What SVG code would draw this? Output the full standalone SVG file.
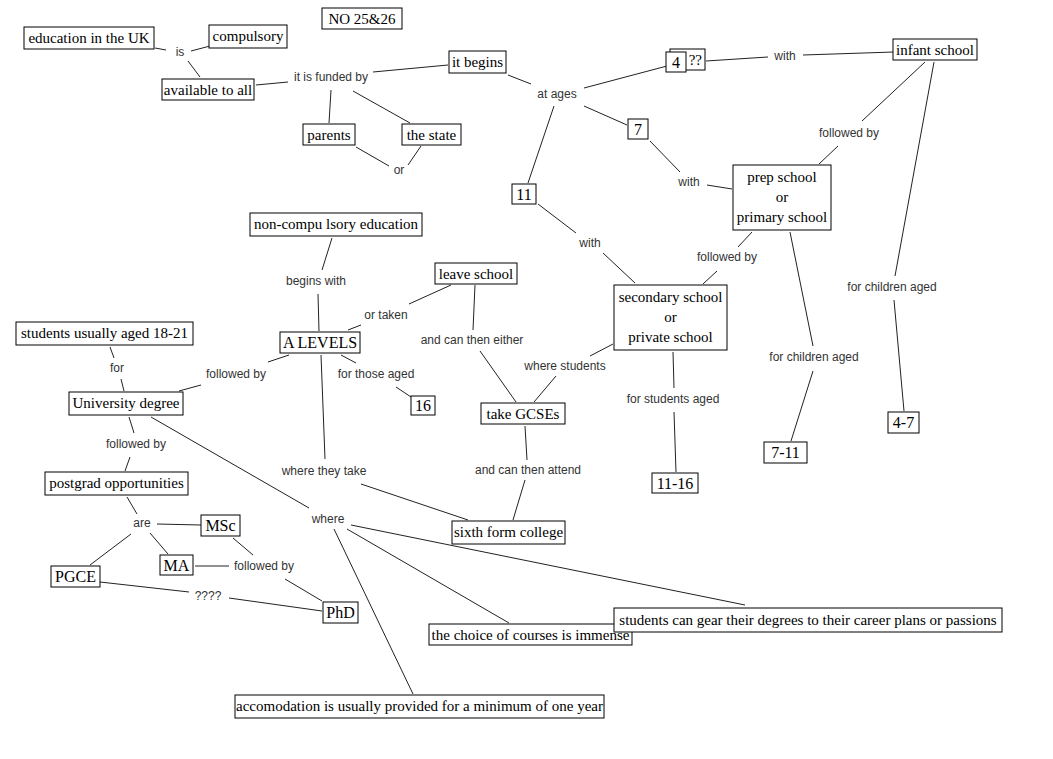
<svg xmlns="http://www.w3.org/2000/svg" width="1053" height="759" viewBox="0 0 1053 759">
<style>
.n rect{fill:#fff;stroke:#000;stroke-width:1}
.n text{font-family:"Liberation Serif","Times New Roman",serif;font-size:15px;fill:#000;text-anchor:middle}
.n text.b{font-size:16px}
.l{font-family:"Liberation Sans",Arial,sans-serif;font-size:12px;fill:#333;text-anchor:middle}
#connectors line{stroke:#222;stroke-width:1}
</style>
<rect width="1053" height="759" fill="#fff"/>
<g id="connectors">
<line x1="155" y1="48" x2="166" y2="50"/>
<line x1="191" y1="51" x2="210" y2="46"/>
<line x1="188" y1="61" x2="200" y2="77"/>
<line x1="256" y1="85" x2="288" y2="82"/>
<line x1="373" y1="72" x2="448" y2="65"/>
<line x1="331" y1="90" x2="329" y2="123"/>
<line x1="353" y1="91" x2="410" y2="123"/>
<line x1="356" y1="147" x2="389" y2="166"/>
<line x1="408" y1="165" x2="421" y2="146"/>
<line x1="508" y1="75" x2="531" y2="84"/>
<line x1="584" y1="88" x2="667" y2="66"/>
<line x1="706" y1="61" x2="768" y2="57"/>
<line x1="803" y1="55" x2="894" y2="52"/>
<line x1="925" y1="62" x2="862" y2="121"/>
<line x1="838" y1="146" x2="819" y2="164"/>
<line x1="934" y1="62" x2="895" y2="276"/>
<line x1="894" y1="300" x2="904" y2="411"/>
<line x1="584" y1="106" x2="627" y2="125"/>
<line x1="554" y1="106" x2="528" y2="183"/>
<line x1="650" y1="141" x2="680" y2="172"/>
<line x1="707" y1="185" x2="732" y2="189"/>
<line x1="538" y1="204" x2="576" y2="233"/>
<line x1="752" y1="232" x2="738" y2="247"/>
<line x1="717" y1="271" x2="703" y2="284"/>
<line x1="790" y1="232" x2="813" y2="346"/>
<line x1="813" y1="371" x2="791" y2="441"/>
<line x1="603" y1="253" x2="635" y2="283"/>
<line x1="613" y1="344" x2="590" y2="356"/>
<line x1="556" y1="376" x2="534" y2="402"/>
<line x1="480" y1="351" x2="516" y2="402"/>
<line x1="475" y1="285" x2="473" y2="330"/>
<line x1="451" y1="285" x2="409" y2="304"/>
<line x1="361" y1="325" x2="348" y2="330"/>
<line x1="332" y1="238" x2="322" y2="270"/>
<line x1="318" y1="294" x2="319" y2="331"/>
<line x1="341" y1="355" x2="356" y2="363"/>
<line x1="396" y1="387" x2="411" y2="397"/>
<line x1="289" y1="355" x2="268" y2="362"/>
<line x1="201" y1="385" x2="179" y2="391"/>
<line x1="110" y1="347" x2="114" y2="358"/>
<line x1="121" y1="379" x2="124" y2="391"/>
<line x1="129" y1="417" x2="134" y2="433"/>
<line x1="130" y1="457" x2="125" y2="471"/>
<line x1="321" y1="355" x2="325" y2="459"/>
<line x1="361" y1="484" x2="468" y2="520"/>
<line x1="525" y1="426" x2="527" y2="460"/>
<line x1="525" y1="480" x2="513" y2="520"/>
<line x1="673" y1="352" x2="674" y2="388"/>
<line x1="674" y1="412" x2="676" y2="472"/>
<line x1="151" y1="417" x2="309" y2="508"/>
<line x1="351" y1="525" x2="745" y2="605"/>
<line x1="347" y1="529" x2="509" y2="623"/>
<line x1="334" y1="529" x2="413" y2="694"/>
<line x1="127" y1="497" x2="137" y2="514"/>
<line x1="157" y1="524" x2="201" y2="525"/>
<line x1="150" y1="533" x2="168" y2="554"/>
<line x1="131" y1="534" x2="90" y2="565"/>
<line x1="233" y1="538" x2="253" y2="555"/>
<line x1="195" y1="566" x2="229" y2="566"/>
<line x1="285" y1="579" x2="322" y2="601"/>
<line x1="100" y1="582" x2="189" y2="592"/>
<line x1="229" y1="598" x2="322" y2="611"/>
</g>
<g id="labels">
<text class="l" x="180" y="56">is</text>
<text class="l" x="331" y="81">it is funded by</text>
<text class="l" x="399" y="174">or</text>
<text class="l" x="557" y="98">at ages</text>
<text class="l" x="785" y="60">with</text>
<text class="l" x="849" y="137">followed by</text>
<text class="l" x="689" y="186">with</text>
<text class="l" x="590" y="247">with</text>
<text class="l" x="727" y="261">followed by</text>
<text class="l" x="316" y="285">begins with</text>
<text class="l" x="386" y="319">or taken</text>
<text class="l" x="472" y="344">and can then either</text>
<text class="l" x="565" y="370">where students</text>
<text class="l" x="376" y="378">for those aged</text>
<text class="l" x="236" y="378">followed by</text>
<text class="l" x="117" y="372">for</text>
<text class="l" x="136" y="448">followed by</text>
<text class="l" x="892" y="291">for children aged</text>
<text class="l" x="814" y="361">for children aged</text>
<text class="l" x="673" y="403">for students aged</text>
<text class="l" x="528" y="474">and can then attend</text>
<text class="l" x="324" y="475">where they take</text>
<text class="l" x="328" y="523">where</text>
<text class="l" x="142" y="527">are</text>
<text class="l" x="264" y="570">followed by</text>
<text class="l" x="208" y="600">????</text>
</g>
<g id="n25" class="n"><rect x="322" y="8" width="80" height="21"/><text x="362" y="24">NO 25&amp;26</text></g>
<g id="edu" class="n"><rect x="24" y="27" width="130" height="22"/><text x="89" y="43">education in the UK</text></g>
<g id="comp" class="n"><rect x="209" y="25" width="78" height="23"/><text x="248" y="41">compulsory</text></g>
<g id="avail" class="n"><rect x="162" y="79" width="92" height="21"/><text x="208" y="95">available to all</text></g>
<g id="begins" class="n"><rect x="449" y="51" width="57" height="22"/><text x="477.5" y="67">it begins</text></g>
<g id="parents" class="n"><rect x="303" y="124" width="52" height="21"/><text x="329" y="140">parents</text></g>
<g id="state" class="n"><rect x="402" y="124" width="59" height="21"/><text x="431.5" y="140">the state</text></g>
<g id="qq" class="n"><rect x="670" y="49" width="35" height="21"/><text x="702" y="65" style="text-anchor:end">??</text></g>
<g id="four" class="n"><rect x="666" y="52" width="20" height="20"/><text class="b" x="676" y="68">4</text></g>
<g id="infant" class="n"><rect x="893" y="39" width="84" height="21"/><text x="935" y="55">infant school</text></g>
<g id="seven" class="n"><rect x="628" y="119" width="20" height="20"/><text class="b" x="638" y="135">7</text></g>
<g id="eleven" class="n"><rect x="512" y="184" width="24" height="20"/><text class="b" x="524" y="200">11</text></g>
<g id="prep" class="n"><rect x="733" y="165" width="98" height="65"/><text x="782" y="182">prep school</text><text x="782" y="202">or</text><text x="782" y="222">primary school</text></g>
<g id="noncomp" class="n"><rect x="250" y="213" width="172" height="23"/><text x="336" y="229">non-compu lsory education</text></g>
<g id="leave" class="n"><rect x="435" y="263" width="82" height="21"/><text x="476" y="279">leave school</text></g>
<g id="secondary" class="n"><rect x="614" y="285" width="113" height="65"/><text x="670.5" y="302">secondary school</text><text x="670.5" y="322">or</text><text x="670.5" y="342">private school</text></g>
<g id="stud18" class="n"><rect x="16" y="322" width="177" height="23"/><text x="104.5" y="338">students usually aged 18-21</text></g>
<g id="alevels" class="n"><rect x="280" y="332" width="80" height="21"/><text class="b" x="320" y="348">A LEVELS</text></g>
<g id="univ" class="n"><rect x="69" y="392" width="114" height="23"/><text x="126" y="408">University degree</text></g>
<g id="sixteen" class="n"><rect x="411" y="396" width="24" height="19"/><text class="b" x="423" y="411">16</text></g>
<g id="gcses" class="n"><rect x="481" y="403" width="84" height="21"/><text x="523" y="419">take GCSEs</text></g>
<g id="age47" class="n"><rect x="888" y="412" width="31" height="21"/><text class="b" x="903.5" y="428">4-7</text></g>
<g id="age711" class="n"><rect x="764" y="442" width="43" height="21"/><text class="b" x="785.5" y="458">7-11</text></g>
<g id="age1116" class="n"><rect x="652" y="473" width="46" height="20"/><text class="b" x="675" y="489">11-16</text></g>
<g id="postgrad" class="n"><rect x="45" y="472" width="143" height="23"/><text x="116.5" y="488">postgrad opportunities</text></g>
<g id="sixth" class="n"><rect x="452" y="521" width="113" height="23"/><text x="508.5" y="537">sixth form college</text></g>
<g id="msc" class="n"><rect x="201" y="515" width="39" height="21"/><text class="b" x="220.5" y="531">MSc</text></g>
<g id="ma" class="n"><rect x="160" y="555" width="33" height="20"/><text class="b" x="176.5" y="571">MA</text></g>
<g id="pgce" class="n"><rect x="51" y="566" width="49" height="21"/><text class="b" x="75.5" y="582">PGCE</text></g>
<g id="phd" class="n"><rect x="323" y="602" width="35" height="21"/><text class="b" x="340.5" y="618">PhD</text></g>
<g id="choice" class="n"><rect x="429" y="624" width="203" height="21"/><text x="530.5" y="640">the choice of courses is immense</text></g>
<g id="gear" class="n"><rect x="614" y="608" width="388" height="24"/><text x="808" y="625">students can gear their degrees to their career plans or passions</text></g>
<g id="accom" class="n"><rect x="235" y="695" width="369" height="23"/><text x="419.5" y="711">accomodation is usually provided for a minimum of one year</text></g>
</svg>
